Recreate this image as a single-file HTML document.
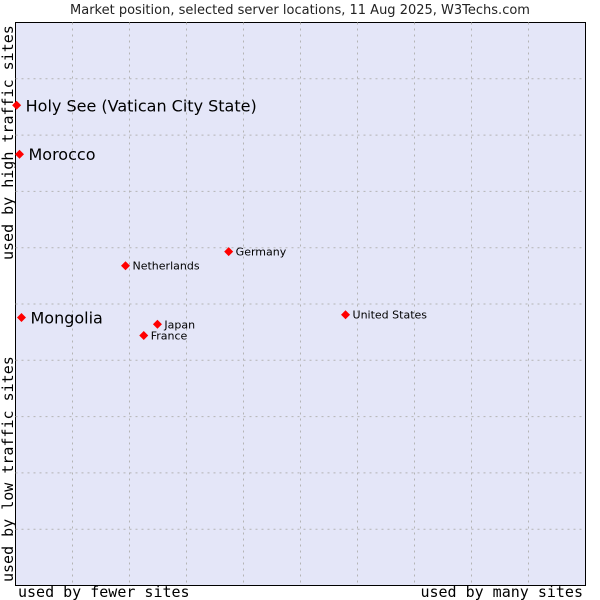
<!DOCTYPE html>
<html><head><meta charset="utf-8"><style>
body{margin:0;background:#fff;width:600px;height:600px;overflow:hidden}
svg{display:block}
</style></head><body>
<svg id="chart" width="600" height="600" xmlns="http://www.w3.org/2000/svg">
<text x="300" y="14" text-anchor="middle" font-family="DejaVu Sans, sans-serif" font-size="13" fill="#222">Market position, selected server locations, 11 Aug 2025, W3Techs.com</text>
<rect x="15.5" y="22.5" width="570" height="563" fill="#e4e6f8" stroke="#000" stroke-width="1"/>
<g id="grid"></g>
<g id="points"></g>
<text x="18" y="597" font-family="DejaVu Sans Mono, Liberation Mono, monospace" font-size="15" fill="#000">used by fewer sites</text>
<text x="583" y="597" text-anchor="end" font-family="DejaVu Sans Mono, Liberation Mono, monospace" font-size="15" fill="#000">used by many sites</text>
<text transform="translate(13,260) rotate(-90)" font-family="DejaVu Sans Mono, Liberation Mono, monospace" font-size="15" fill="#000">used by high traffic sites</text>
<text transform="translate(13,582) rotate(-90)" font-family="DejaVu Sans Mono, Liberation Mono, monospace" font-size="15" fill="#000">used by low traffic sites</text>
</svg>
<script>
const countries=["Holy See (Vatican City State)","Morocco","Mongolia","Netherlands","Germany","Japan","France","United States"];
const usageX=[0.2,0.7,1.05,19.3,37.4,24.9,22.5,57.9];
const trafficY=[85.3,76.6,47.6,56.8,59.3,46.4,44.4,48.1];
const highlighted=[true,true,true,false,false,false,false,false];
const L=15.5,T=22.5,W=570,H=563;
const sx=v=>L+v/100*W, sy=v=>T+H-v/100*H;
const NS="http://www.w3.org/2000/svg";
const grid=document.getElementById('grid');
for(let i=1;i<10;i++){
  const v=document.createElementNS(NS,'line');
  v.setAttribute('x1',sx(i*10));v.setAttribute('x2',sx(i*10));v.setAttribute('y1',T);v.setAttribute('y2',T+H);
  v.setAttribute('stroke','#b4b4b4');v.setAttribute('stroke-dasharray','2,4');
  
  
  grid.appendChild(v);
  const h=document.createElementNS(NS,'line');
  h.setAttribute('y1',sy(i*10));h.setAttribute('y2',sy(i*10));h.setAttribute('x1',L);h.setAttribute('x2',L+W);
  h.setAttribute('stroke','#b4b4b4');h.setAttribute('stroke-dasharray','2,4');
  
  
  grid.appendChild(h);
}
const pts=document.getElementById('points');
countries.forEach((c,i)=>{
  const x=sx(usageX[i]),y=sy(trafficY[i]);
  const d=document.createElementNS(NS,'path');
  d.setAttribute('d',`M${x} ${y-4.5}L${x+4.5} ${y}L${x} ${y+4.5}L${x-4.5} ${y}Z`);
  d.setAttribute('fill','#f00');
  
  
  pts.appendChild(d);
  const t=document.createElementNS(NS,'text');
  const big=highlighted[i];
  t.setAttribute('x',x+(big?9:7));t.setAttribute('y',y+(big?6:4));
  t.setAttribute('font-family','DejaVu Sans, Liberation Sans, sans-serif');
  t.setAttribute('font-size',big?16:11);t.setAttribute('fill','#000');
  t.textContent=c;
  
  
  pts.appendChild(t);
});
</script>
</body></html>
